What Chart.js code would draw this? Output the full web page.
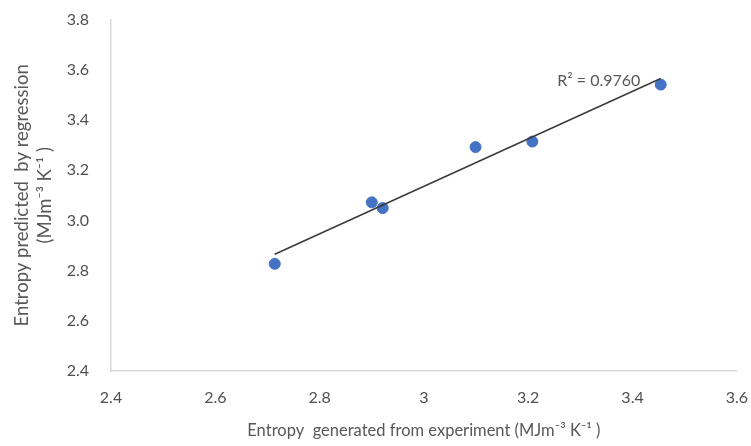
<!DOCTYPE html>
<html>
<head>
<meta charset="utf-8">
<script src="https://cdn.jsdelivr.net/npm/chart.js@4"></script>
<style>
  body { margin: 0; background: #fff; }
  #wrap { width: 751px; height: 446px; }
</style>
</head>
<body>
<div id="wrap"><canvas id="grafico"></canvas></div>
<script>
// valores
const experimento = [2.714, 2.900, 2.921, 3.099, 3.208, 3.454];
const regresion = [2.827, 3.072, 3.049, 3.292, 3.314, 3.541];
const xTicks = [2.4, 2.6, 2.8, 3.0, 3.2, 3.4, 3.6];
const yTicks = [2.4, 2.6, 2.8, 3.0, 3.2, 3.4, 3.6, 3.8];
const r2Texto = "R\u00b2 = 0.9760";
const r2Pos = [3.415, 3.557];

// linea de tendencia por minimos cuadrados
let n = experimento.length
let mx = experimento.reduce((a, b) => a + b, 0) / n
let my = regresion.reduce((a, b) => a + b, 0) / n
let sxy = 0, sxx = 0
experimento.forEach((x, i) => {
  sxy += (x - mx) * (regresion[i] - my)
  sxx += (x - mx) * (x - mx)
})
let pendiente = sxy / sxx
let corte = my - pendiente * mx
let xMin = Math.min(...experimento), xMax = Math.max(...experimento)
const tendencia = [
  { x: xMin, y: corte + pendiente * xMin },
  { x: xMax, y: corte + pendiente * xMax }
]

const gris = "#595959"
const fuente = "Lato, 'Open Sans', sans-serif"

const etiquetaR2 = {
  id: "etiquetaR2",
  afterDatasetsDraw(chart) {
    const ctx = chart.ctx
    const px = chart.scales.x.getPixelForValue(r2Pos[0])
    const py = chart.scales.y.getPixelForValue(r2Pos[1])
    ctx.save()
    ctx.font = "16px " + fuente
    ctx.fillStyle = gris
    ctx.textAlign = "right"
    ctx.textBaseline = "middle"
    ctx.fillText(r2Texto, px, py)
    ctx.restore()
  }
}

const config = {
  type: "scatter",
  data: {
    datasets: [
      {
        label: "Tendencia",
        type: "line",
        data: tendencia,
        borderColor: "#3a3a3a",
        borderWidth: 1.5,
        pointRadius: 0,
        fill: false
      },
      {
        label: "Datos",
        data: experimento.map((x, i) => ({ x: x, y: regresion[i] })),
        backgroundColor: "#4472C4",
        borderColor: "#4472C4",
        pointRadius: 5.5,
        pointHoverRadius: 5.5
      }
    ]
  },
  options: {
    responsive: true,
    maintainAspectRatio: false,
    animation: false,
    layout: { padding: 0 },
    plugins: { legend: { display: false }, tooltip: { enabled: false } },
    scales: {
      x: {
        type: "linear",
        min: 2.4,
        max: 3.6,
        afterBuildTicks: s => { s.ticks = xTicks.map(v => ({ value: v })) },
        // la linea de marca no se dibuja, solo separa las etiquetas
        grid: { display: false, drawTicks: true, tickLength: 14 },
        border: { color: "#d9d9d9", width: 1.5 },
        ticks: {
          color: "#505050",
          font: { size: 16, family: fuente },
          padding: 3,
          callback: v => String(Math.round(v * 10) / 10)
        },
        title: {
          display: true,
          text: "Entropy  generated from experiment (MJm\u207b\u00b3 K\u207b\u00b9 )",
          color: gris,
          font: { size: 16.5, family: fuente },
          padding: { top: 2, bottom: 5 }
        },
        afterFit: s => { s.height = 75 }
      },
      y: {
        min: 2.4,
        max: 3.8,
        afterBuildTicks: s => { s.ticks = yTicks.map(v => ({ value: v })) },
        grid: { display: false, drawTicks: true, tickLength: 12 },
        border: { color: "#d9d9d9", width: 1.5 },
        ticks: {
          color: "#505050",
          font: { size: 16, family: fuente },
          padding: 10,
          callback: v => v.toFixed(1)
        },
        title: {
          display: true,
          text: ["Entropy predicted  by regression", "(MJm\u207b\u00b3 K\u207b\u00b9 )"],
          color: gris,
          font: { size: 18.5, family: fuente, lineHeight: 1.25 },
          padding: { top: 10, bottom: 4 }
        },
        afterFit: s => { s.width = 111 }
      }
    }
  },
  plugins: [etiquetaR2]
}

let grafico = new Chart(document.getElementById("grafico"), config)
</script>
</body>
</html>
